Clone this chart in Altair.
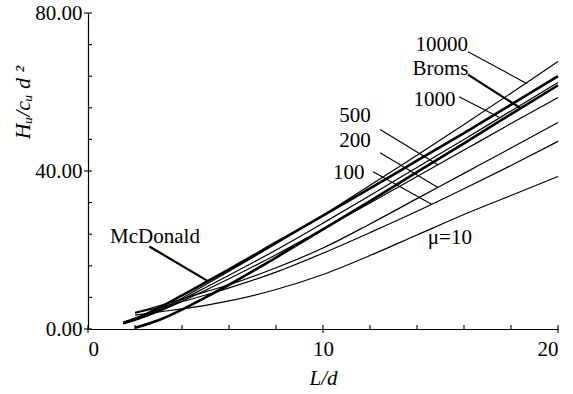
import altair as alt
import pandas as pd

# Ultimate lateral resistance Hu/(cu d^2) against embedment ratio L/d
mu10_x = [2, 3, 4, 5, 6, 8, 10, 12, 14, 16, 18, 20]
mu10_y = [3.5, 4.3, 5.1, 6.0, 7.1, 10.0, 13.8, 18.6, 23.8, 29.0, 33.8, 38.6]

mu100_x = [2, 3, 4, 5, 6, 8, 10, 12, 14, 16, 18, 20]
mu100_y = [4.0, 5.4, 6.9, 8.6, 10.4, 14.4, 19.2, 24.4, 29.8, 35.5, 41.4, 47.5]

mu200_x = [2, 3, 4, 5, 6, 8, 10, 12, 14, 16, 18, 20]
mu200_y = [4.2, 5.8, 7.6, 9.4, 11.2, 15.5, 20.5, 26.6, 33.0, 39.4, 45.8, 52.3]

mu500_x = [1.5, 2, 3, 4, 5, 6, 8, 10, 12, 14, 16, 18, 20]
mu500_y = [1.3, 2.2, 4.4, 7.0, 9.8, 12.7, 18.8, 25.3, 31.9, 38.6, 45.3, 52.0, 58.6]

mu1000_x = [1.5, 2, 3, 4, 5, 6, 8, 10, 12, 14, 16, 18, 20]
mu1000_y = [1.4, 2.3, 4.6, 7.4, 10.5, 13.6, 20.0, 26.8, 33.8, 40.9, 48.0, 55.2, 62.4]

mu10000_x = [1.5, 2, 3, 4, 5, 6, 8, 10, 12, 14, 16, 18, 20]
mu10000_y = [1.5, 2.4, 4.8, 7.8, 11.2, 14.6, 21.6, 28.8, 36.4, 44.0, 51.8, 59.7, 67.7]

broms_x = [2, 3, 4, 5, 6, 8, 10, 12, 14, 16, 18, 20]
broms_y = [0.3, 2.2, 4.9, 8.0, 11.2, 18.1, 25.2, 32.4, 39.7, 47.0, 54.4, 61.7]

mcdonald_x = [1.5, 2, 3, 4, 5, 6, 8, 10, 12, 14, 16, 18, 20]
mcdonald_y = [1.6, 2.6, 5.3, 8.5, 11.8, 15.1, 21.9, 28.7, 35.6, 42.6, 49.6, 56.8, 64.0]

# Curve labels and the leader lines that tie them to their curves
label_text = ["10000", "Broms", "1000", "500", "200", "100", "\u03bc=10", "McDonald"]
label_x = [15.05, 15.0, 14.74, 11.36, 11.36, 11.1, 15.4, 2.85]
label_y = [72.0, 65.9, 58.0, 53.8, 47.5, 39.5, 23.0, 23.4]

leader_name = ["10000", "Broms", "1000", "500", "200", "100", "McDonald"]
leader_x1 = [16.17, 16.17, 15.79, 12.43, 12.43, 12.13, 2.61]
leader_y1 = [70.2, 64.4, 58.8, 50.5, 44.6, 39.8, 20.9]
leader_x2 = [18.68, 18.38, 17.53, 14.89, 14.89, 14.64, 5.12]
leader_y2 = [62.1, 56.0, 53.5, 41.6, 35.8, 31.5, 12.05]
leader_bold = [False, True, False, False, False, False, True]

# Axis ticks
x_ticks = [0, 2, 4, 6, 8, 10, 12, 14, 16, 18, 20]
x_major = [0, 10, 20]
y_ticks = [0, 8, 16, 24, 32, 40, 48, 56, 64, 72, 80]
y_major = [0, 40, 80]

FONT = "Liberation Serif"
FS = 21
W, H = 470, 316

series = [
    ("10", mu10_x, mu10_y, False),
    ("100", mu100_x, mu100_y, False),
    ("200", mu200_x, mu200_y, False),
    ("500", mu500_x, mu500_y, False),
    ("1000", mu1000_x, mu1000_y, False),
    ("10000", mu10000_x, mu10000_y, False),
    ("Broms", broms_x, broms_y, True),
    ("McDonald", mcdonald_x, mcdonald_y, True),
]
rows = []
for name, xs, ys, bold in series:
    for i, (a, b) in enumerate(zip(xs, ys)):
        rows.append({"curve": name, "order": i, "L_d": a, "H": b, "bold": bold})
curves = pd.DataFrame(rows)

labels = pd.DataFrame({"text": label_text, "x": label_x, "y": label_y})
leaders = pd.DataFrame({"name": leader_name, "x1": leader_x1, "y1": leader_y1,
                        "x2": leader_x2, "y2": leader_y2, "bold": leader_bold})

xscale = alt.Scale(domain=[0, 20], nice=False, zero=False)
yscale = alt.Scale(domain=[0, 80], nice=False, zero=False)

x_axis = alt.Axis(
    values=x_major, ticks=False, grid=False, domain=True, domainColor="black",
    domainWidth=1.2, labelFont=FONT, labelFontSize=FS, labelColor="black",
    labelPadding=9, title="L/d", titleFont=FONT, titleFontSize=FS,
    titleFontStyle="italic", titleFontWeight="normal", titleColor="black",
    titlePadding=8,
)
y_axis = alt.Axis(
    values=y_major, ticks=False, grid=False, domain=True, domainColor="black",
    domainWidth=1.2, labelFont=FONT, labelFontSize=FS, labelColor="black",
    labelPadding=6, format=".2f",
    title="H\u1d64/c\u1d64 d \u00b2", titleFont=FONT, titleFontSize=FS + 1,
    titleFontStyle="italic", titleFontWeight="normal", titleColor="black",
    titleX=-66, titleY=89, titleAngle=-90, titleAlign="center",
    titleBaseline="middle",
)

base_thin = alt.Chart(curves).transform_filter("!datum.bold")
base_bold = alt.Chart(curves).transform_filter("datum.bold")

thin = base_thin.mark_line(color="black", strokeWidth=1.2, interpolate="monotone").encode(
    x=alt.X("L_d:Q", scale=xscale, axis=x_axis),
    y=alt.Y("H:Q", scale=yscale, axis=y_axis),
    detail="curve:N",
    order="order:Q",
)
bold = base_bold.mark_line(color="black", strokeWidth=2.6, interpolate="monotone").encode(
    x=alt.X("L_d:Q", scale=xscale),
    y=alt.Y("H:Q", scale=yscale),
    detail="curve:N",
    order="order:Q",
)

lead_thin = alt.Chart(leaders).transform_filter("!datum.bold").mark_rule(
    color="black", strokeWidth=1.1
).encode(x="x1:Q", y="y1:Q", x2="x2:Q", y2="y2:Q")
lead_bold = alt.Chart(leaders).transform_filter("datum.bold").mark_rule(
    color="black", strokeWidth=2.2
).encode(x="x1:Q", y="y1:Q", x2="x2:Q", y2="y2:Q")

text = alt.Chart(labels).mark_text(
    font=FONT, fontSize=FS, color="black", align="center", baseline="middle"
).encode(x="x:Q", y="y:Q", text="text:N")

# Inward tick marks along both axes; the labelled ones also cross the axis
xt = alt.Chart(pd.DataFrame({"v": x_ticks})).mark_rule(color="black", strokeWidth=1.1).encode(
    x=alt.X("v:Q", scale=xscale), y=alt.value(H), y2=alt.value(H - 4)
)
xtm = alt.Chart(pd.DataFrame({"v": x_major})).mark_rule(color="black", strokeWidth=1.1).encode(
    x=alt.X("v:Q", scale=xscale), y=alt.value(H + 4), y2=alt.value(H)
)
yt = alt.Chart(pd.DataFrame({"v": y_ticks})).mark_rule(color="black", strokeWidth=1.1).encode(
    y=alt.Y("v:Q", scale=yscale), x=alt.value(0), x2=alt.value(4)
)
ytm = alt.Chart(pd.DataFrame({"v": y_major})).mark_rule(color="black", strokeWidth=1.1).encode(
    y=alt.Y("v:Q", scale=yscale), x=alt.value(-4), x2=alt.value(0)
)

chart = alt.layer(thin, bold, lead_thin, lead_bold, text, xt, xtm, yt, ytm).properties(
    width=W, height=H,
    autosize=alt.AutoSizeParams(type="none"),
    padding={"left": 88, "top": 13, "right": 15, "bottom": 65},
    background="white",
).configure_view(stroke=None)

chart.save("out.html", embed_options={"renderer": "svg", "actions": False})
